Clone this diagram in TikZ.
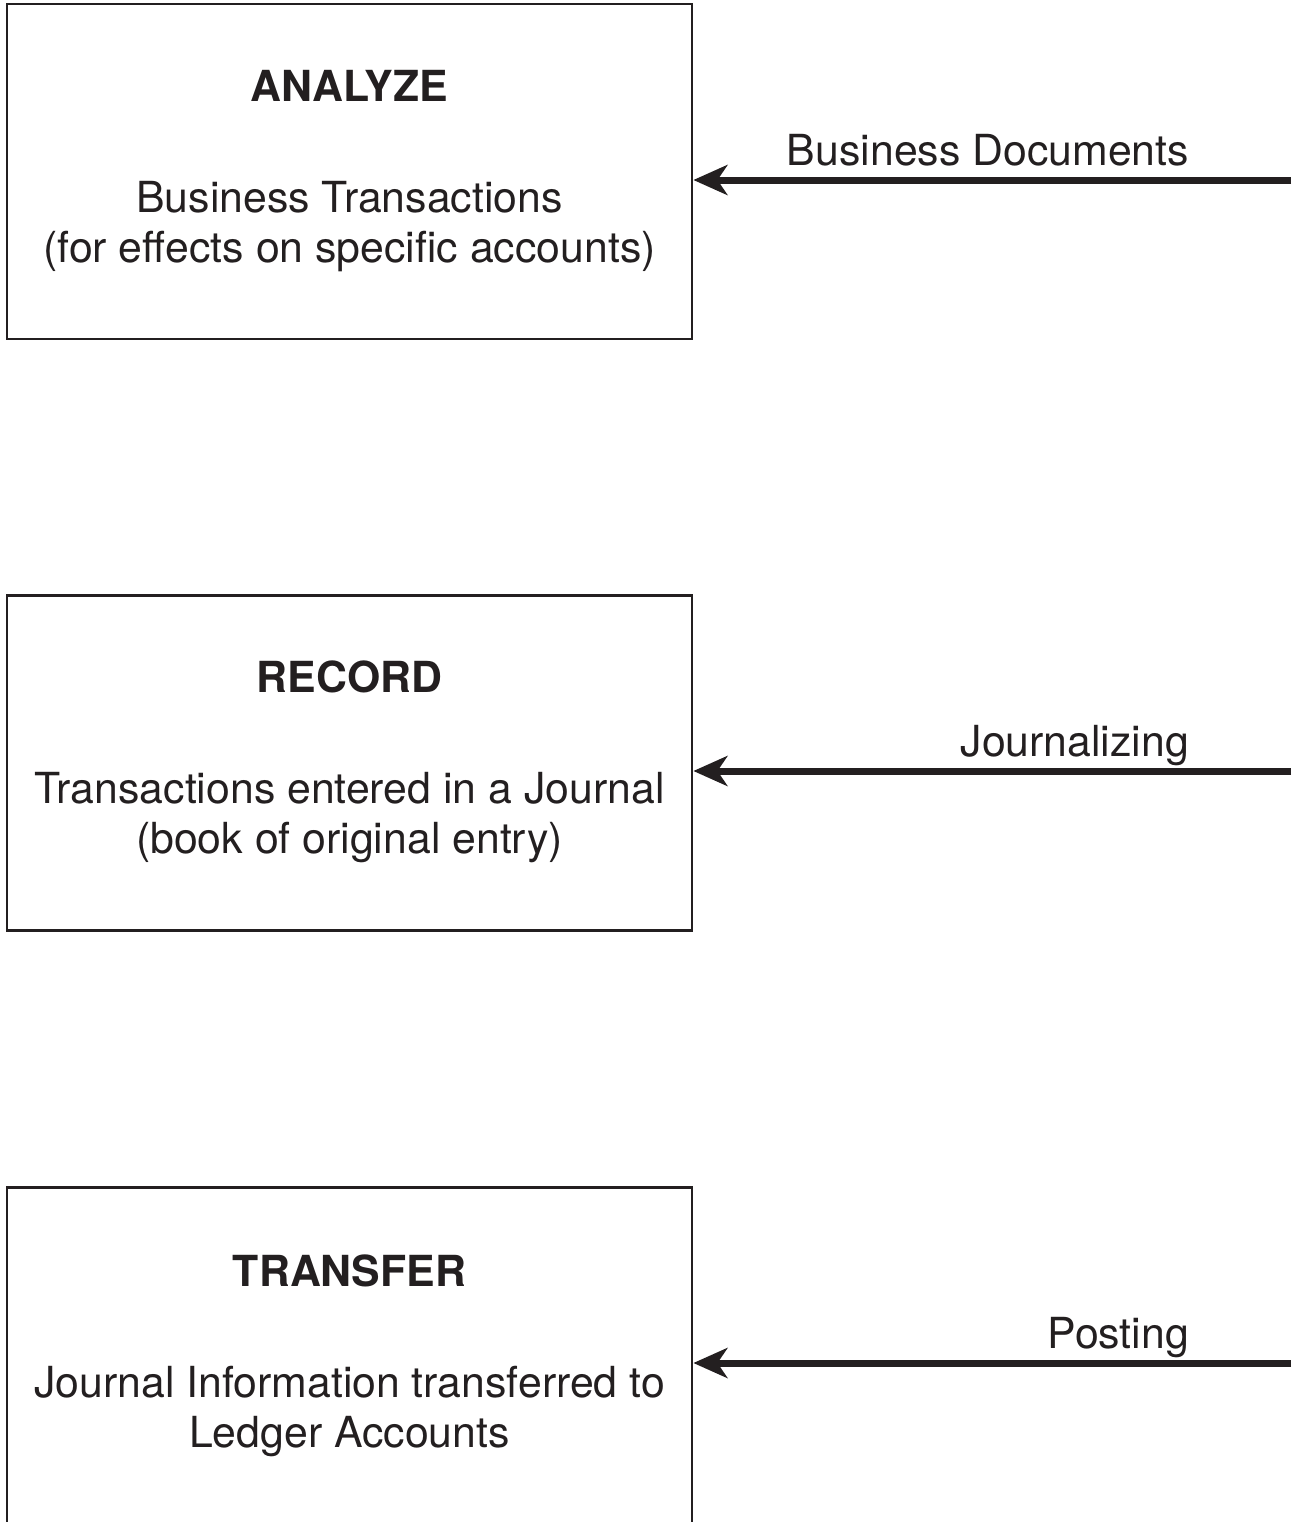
\documentclass[tikz,border=0pt]{standalone}
\usepackage{fontspec}
\setmainfont{TeX Gyre Heros}
\usetikzlibrary{arrows.meta,positioning,calc}
\definecolor{ink}{HTML}{231F20}

\begin{document}
\begin{tikzpicture}[x=0.5pt,y=-0.5pt,>={Stealth[length=17pt,width=15pt,inset=5pt]},
                    every node/.style={text=ink,font=\fontsize{21.4}{25}\selectfont},
                    box/.style={draw=ink,line width=1.4pt,minimum width=342.5pt,
                                minimum height=167.5pt,inner sep=0pt},
                    title/.style={font=\fontsize{21.4}{25}\selectfont\bfseries},
                    body/.style={align=center},
                    lbl/.style={anchor=base east},
                    feed/.style={->,draw=ink,line width=3.5pt}]
                \useasboundingbox (0,0) rectangle (1298,1522);
                \node [box] (b1) at (349.5,171.5) {};
                \node [box] (b2) [below=126.8pt of b1] {};
                \node [box,minimum height=174pt] (b3) [below=127.3pt of b2] {};
                \node [title] (t1) at ($(b1.north)+(0,83)$) {ANALYZE};
                \node [title] (t2) at ($(b2.north)+(0,83)$) {RECORD};
                \node [title] (t3) at ($(b3.north)+(0,84)$) {TRANSFER};
                \node [body] (x1) at ($(b1.north)+(0,224)$)
                    {Business Transactions\\(for effects on specific accounts)};
                \node [body] (x2) at ($(b2.north)+(0,224)$)
                    {Transactions entered in a Journal\\(book of original entry)};
                \node [body] (x3) at ($(b3.north)+(0,225)$)
                    {Journal Information transferred to\\Ledger Accounts};
                \coordinate (s1) at (1291,180);
                \coordinate (s2) at (1291,771);
                \coordinate (s3) at (1291,1363);
                \draw [feed] (s1) -- (s1 -| b1.east);
                \draw [feed] (s2) -- (s2 -| b2.east);
                \draw [feed] (s3) -- (s3 -| b3.east);
                \node [lbl] (l1) at ($(s1)+(-95,-15)$) {Business Documents};
                \node [lbl] (l2) at ($(s2)+(-95,-15)$) {Journalizing};
                \node [lbl] (l3) at ($(s3)+(-95,-15)$) {Posting};
            \end{tikzpicture}
\end{document}
